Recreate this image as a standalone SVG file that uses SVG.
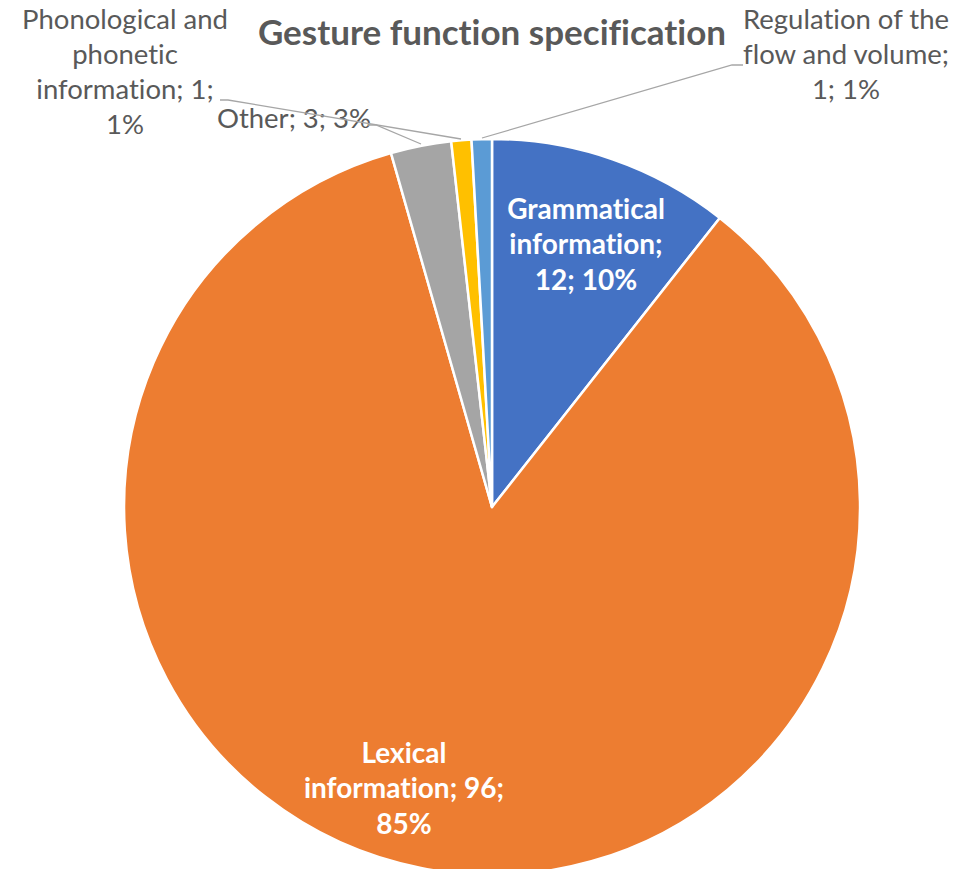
<svg xmlns="http://www.w3.org/2000/svg" width="980" height="869" viewBox="0 0 980 869">
<style>
text{font-variant-ligatures:none;font-feature-settings:"liga" 0,"dlig" 0,"clig" 0}
.slice{stroke:#fff;stroke-width:2.5;stroke-linejoin:round}
.lbl{font-family:Lato,"Open Sans","Liberation Sans",sans-serif;font-size:27.5px;fill:#595959;text-anchor:middle}
.in{font-family:Lato,"Open Sans","Liberation Sans",sans-serif;font-size:28px;font-weight:bold;fill:#fff;text-anchor:middle}
.title{font-family:Lato,"Open Sans","Liberation Sans",sans-serif;font-size:35px;font-weight:bold;fill:#595959;text-anchor:middle}
.lead{fill:none;stroke:#A6A6A6;stroke-width:1.3}
</style>
<rect width="980" height="869" fill="#fff"/>
<text class="title" x="492" y="45">Gesture function specification</text>
<g id="grammatical">
<path class="slice" fill="#4472C4" d="M492,507 L492,139 A368,368 0 0 1 719.8,217.9 Z"/>
<text class="in" x="586" y="219">Grammatical</text>
<text class="in" x="586" y="254">information;</text>
<text class="in" x="586" y="290">12; 10%</text>
</g>
<g id="lexical">
<path class="slice" fill="#ED7D31" d="M492,507 L719.8,217.9 A368,368 0 1 1 391.0,153.1 Z"/>
<text class="in" x="404" y="763">Lexical</text>
<text class="in" x="404" y="798">information; 96;</text>
<text class="in" x="404" y="834">85%</text>
</g>
<g id="other">
<path class="slice" fill="#A5A5A5" d="M492,507 L391.0,153.1 A368,368 0 0 1 451.2,141.3 Z"/>
<text class="lbl" x="294" y="128">Other; 3; 3%</text>
</g>
<g id="phonological">
<path class="slice" fill="#FFC000" d="M492,507 L451.2,141.3 A368,368 0 0 1 471.5,139.6 Z"/>
<text class="lbl" x="125" y="29">Phonological and</text>
<text class="lbl" x="125" y="64">phonetic</text>
<text class="lbl" x="125" y="99">information; 1;</text>
<text class="lbl" x="125" y="134">1%</text>
</g>
<g id="regulation">
<path class="slice" fill="#5B9BD5" d="M492,507 L471.5,139.6 A368,368 0 0 1 492,139 Z"/>
<text class="lbl" x="846" y="29">Regulation of the</text>
<text class="lbl" x="846" y="64">flow and volume;</text>
<text class="lbl" x="846" y="99">1; 1%</text>
</g>
<g id="connectors">
<polyline class="lead" points="220,100 228,100 461,139"/>
<polyline class="lead" points="368,125 376,125 421,144"/>
<polyline class="lead" points="482,138 732,65 743,65"/>
</g>
</svg>
